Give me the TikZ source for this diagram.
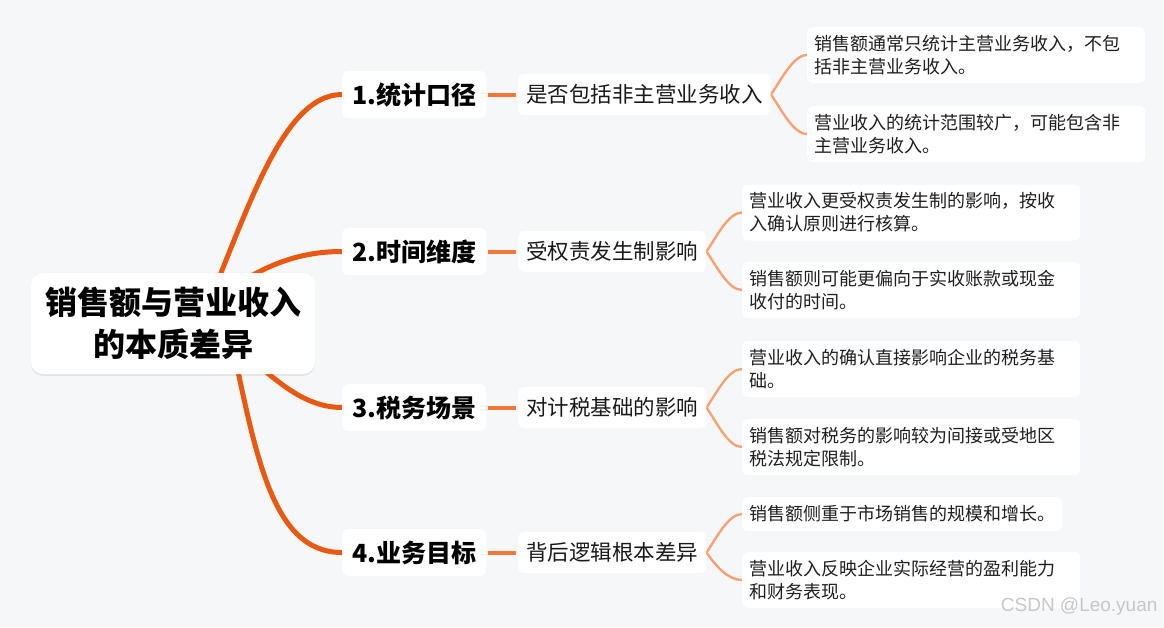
\documentclass[tikz,border=0pt]{standalone}
\usepackage{fontspec}
\setmainfont{Noto Sans CJK SC}
\newfontfamily\markfont{Liberation Sans}
\usetikzlibrary{shadows}
\definecolor{pagegray}{RGB}{246,247,249}
\definecolor{trunkorange}{RGB}{232,90,18}
\definecolor{twigorange}{RGB}{244,118,56}
\definecolor{curlorange}{RGB}{246,162,114}
\pgfdeclarelayer{back}
\pgfsetlayers{back,main}
\tikzset{
  rootbox/.style={fill=white, rounded corners=12pt, minimum width=284pt, minimum height=101pt,
    align=center, font=\fontsize{32}{42}\selectfont\bfseries,
    drop shadow={shadow xshift=0pt, shadow yshift=-2pt, opacity=0.07, fill=black}},
  dimbox/.style={fill=white, rounded corners=6pt, anchor=west, inner xsep=10pt,
    minimum height=47pt, font=\fontsize{25}{30}\selectfont\bfseries},
  subbox/.style={fill=white, rounded corners=6pt, anchor=west, inner xsep=8pt,
    minimum height=41pt, font=\fontsize{21.5}{26}\selectfont, text=black!90},
  leafbox/.style={fill=white, rounded corners=6pt, anchor=west, inner xsep=7pt,
    text width=324pt, align=left, minimum height=56pt,
    font=\fontsize{18}{23}\selectfont, text=black!88},
  leafline/.style={fill=white, rounded corners=6pt, anchor=west, inner xsep=7pt,
    minimum height=34pt, font=\fontsize{18}{23}\selectfont, text=black!88},
  trunk/.style={draw=trunkorange, line width=5pt, line cap=round},
  twig/.style={draw=twigorange, line width=4pt, shorten <=2pt, shorten >=2pt},
  curl/.style={draw=curlorange, line width=2.4pt, line cap=round},
  wmark/.style={anchor=east, text=black!22, font=\markfont\fontsize{19}{22}\selectfont}
}
\begin{document}
\begin{tikzpicture}[x=1pt, y=-1pt]
  \useasboundingbox (0,0) rectangle (1164,627);
  % nodes
  \node[rootbox] (root) at (173,323.5) {销售额与营业收入\\的本质差异};
  \node[dimbox] (dim1) at (342,94.5) {1.统计口径};
  \node[dimbox] (dim2) at (342,251.5) {2.时间维度};
  \node[dimbox] (dim3) at (342,407.5) {3.税务场景};
  \node[dimbox] (dim4) at (342,552.5) {4.业务目标};
  \node[subbox] (sub1) at (518,94.5) {是否包括非主营业务收入};
  \node[subbox] (sub2) at (518,251.5) {受权责发生制影响};
  \node[subbox] (sub3) at (518,407.5) {对计税基础的影响};
  \node[subbox] (sub4) at (518,552.5) {背后逻辑根本差异};
  \node[leafbox] (leaf1a) at (807,55) {销售额通常只统计主营业务收入，不包\\括非主营业务收入。};
  \node[leafbox] (leaf1b) at (807,134) {营业收入的统计范围较广，可能包含非\\主营业务收入。};
  \node[leafbox] (leaf2a) at (742,212.5) {营业收入更受权责发生制的影响，按收\\入确认原则进行核算。};
  \node[leafbox] (leaf2b) at (742,290) {销售额则可能更偏向于实收账款或现金\\收付的时间。};
  \node[leafbox] (leaf3a) at (742,369) {营业收入的确认直接影响企业的税务基\\础。};
  \node[leafbox] (leaf3b) at (742,447) {销售额对税务的影响较为间接或受地区\\税法规定限制。};
  \node[leafline] (leaf4a) at (742,514) {销售额侧重于市场销售的规模和增长。};
  \node[leafbox] (leaf4b) at (742,580) {营业收入反映企业实际经营的盈利能力\\和财务表现。};
  \node[wmark] (wm) at (1161,607) {CSDN @Leo.yuan};
  % connectors under the boxes
  \begin{pgfonlayer}{back}
    \fill[pagegray] (0,0) rectangle (1164,627);
    \draw[trunk] ([xshift=27pt]root.center) .. controls +(45,-103) and +(-62,0) .. (dim1.west);
    \draw[trunk] ([xshift=7pt]root.center) .. controls +(50,-33) and +(-72,0) .. (dim2.west);
    \draw[trunk] ([xshift=27pt]root.center) .. controls +(50,22) and +(-57,0) .. (dim3.west);
    \draw[trunk] ([xshift=55pt]root.center) .. controls +(27,127) and +(-72,0) .. (dim4.west);
    \draw[twig] (dim1.east) -- (sub1.west);
    \draw[twig] (dim2.east) -- (sub2.west);
    \draw[twig] (dim3.east) -- (sub3.west);
    \draw[twig] (dim4.east) -- (sub4.west);
    \draw[curl] (sub1.east) .. controls +(10,-14) and +(-14,0) .. (leaf1a.west);
    \draw[curl] (sub1.east) .. controls +(10,14) and +(-14,0) .. (leaf1b.west);
    \draw[curl] (sub2.east) .. controls +(10,-14) and +(-14,0) .. (leaf2a.west);
    \draw[curl] (sub2.east) .. controls +(10,14) and +(-14,0) .. (leaf2b.west);
    \draw[curl] (sub3.east) .. controls +(10,-14) and +(-14,0) .. (leaf3a.west);
    \draw[curl] (sub3.east) .. controls +(10,14) and +(-14,0) .. (leaf3b.west);
    \draw[curl] (sub4.east) .. controls +(10,-14) and +(-14,0) .. (leaf4a.west);
    \draw[curl] (sub4.east) .. controls +(10,14) and +(-14,0) .. (leaf4b.west);
  \end{pgfonlayer}
\end{tikzpicture}
\end{document}
